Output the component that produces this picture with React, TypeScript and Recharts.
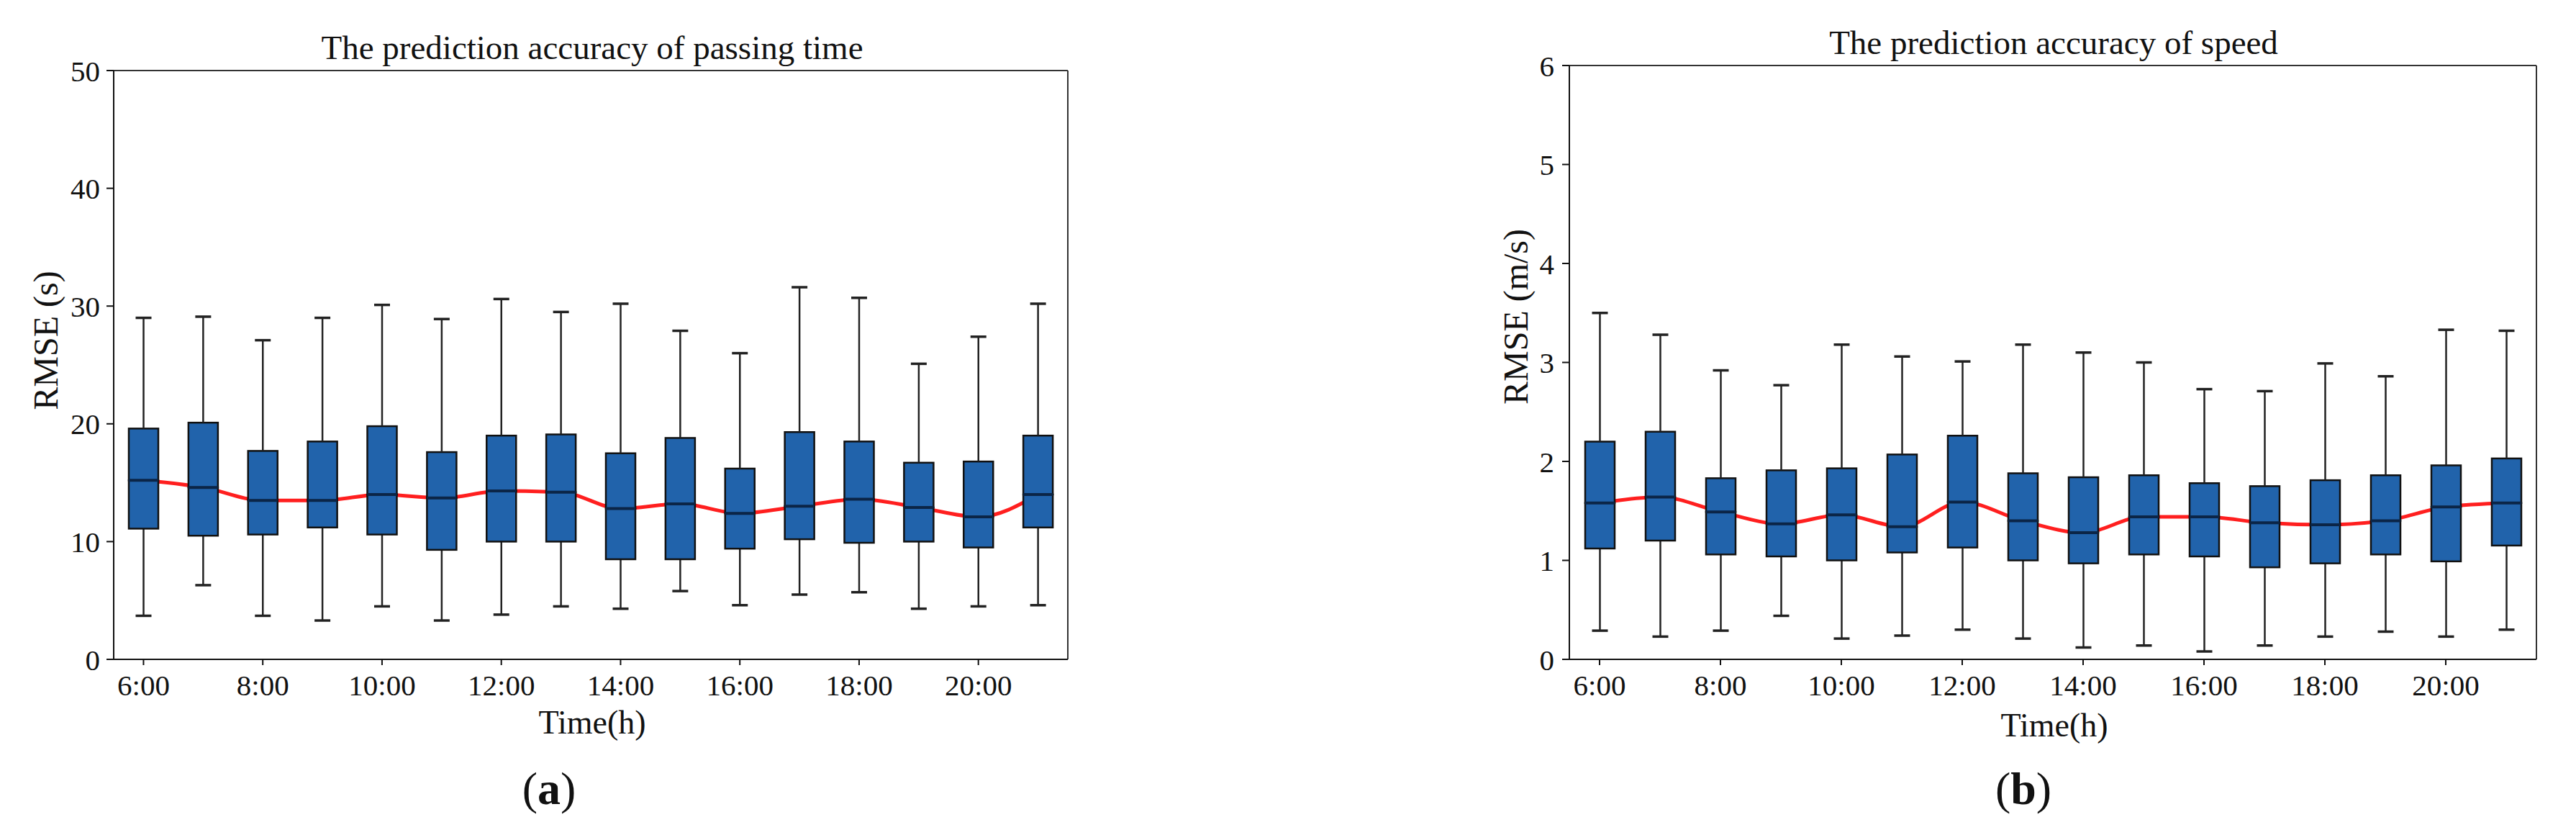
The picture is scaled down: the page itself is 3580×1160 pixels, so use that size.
import React from "react";
import { ComposedChart, Bar, Line, XAxis, YAxis } from "recharts";

const hours = [
  "6:00", "7:00", "8:00", "9:00", "10:00", "11:00", "12:00", "13:00",
  "14:00", "15:00", "16:00", "17:00", "18:00", "19:00", "20:00", "21:00",
];

// (a) passing time RMSE, seconds
const timeMin = [3.7, 6.3, 3.7, 3.3, 4.5, 3.3, 3.8, 4.5, 4.3, 5.8, 4.6, 5.5, 5.7, 4.3, 4.5, 4.6];
const timeQ1 = [11.1, 10.5, 10.6, 11.2, 10.6, 9.3, 10.0, 10.0, 8.5, 8.5, 9.4, 10.2, 9.9, 10.0, 9.5, 11.2];
const timeMedian = [15.2, 14.6, 13.5, 13.5, 14.0, 13.7, 14.3, 14.2, 12.8, 13.2, 12.4, 13.0, 13.6, 12.9, 12.1, 14.0];
const timeQ3 = [19.6, 20.1, 17.7, 18.5, 19.8, 17.6, 19.0, 19.1, 17.5, 18.8, 16.2, 19.3, 18.5, 16.7, 16.8, 19.0];
const timeMax = [29.0, 29.1, 27.1, 29.0, 30.1, 28.9, 30.6, 29.5, 30.2, 27.9, 26.0, 31.6, 30.7, 25.1, 27.4, 30.2];
const timeTicks = [0, 10, 20, 30, 40, 50];

// (b) speed RMSE, m/s
const speedMin = [0.29, 0.23, 0.29, 0.44, 0.21, 0.24, 0.3, 0.21, 0.12, 0.14, 0.08, 0.14, 0.23, 0.28, 0.23, 0.3];
const speedQ1 = [1.12, 1.2, 1.06, 1.04, 1.0, 1.08, 1.13, 1.0, 0.97, 1.06, 1.04, 0.93, 0.97, 1.06, 0.99, 1.15];
const speedMedian = [1.58, 1.64, 1.49, 1.37, 1.46, 1.34, 1.59, 1.4, 1.28, 1.44, 1.44, 1.38, 1.36, 1.4, 1.54, 1.58];
const speedQ3 = [2.2, 2.3, 1.83, 1.91, 1.93, 2.07, 2.26, 1.88, 1.84, 1.86, 1.78, 1.75, 1.81, 1.86, 1.96, 2.03];
const speedMax = [3.5, 3.28, 2.92, 2.77, 3.18, 3.06, 3.01, 3.18, 3.1, 3.0, 2.73, 2.71, 2.99, 2.86, 3.33, 3.32];
const speedTicks = [0, 1, 2, 3, 4, 5, 6];

const BOX_FILL = "#2163ab";
const FONT = "'Liberation Serif', 'Times New Roman', serif";

const buildRows = (min: number[], q1: number[], med: number[], q3: number[], max: number[]) =>
  hours.map((hour, i) => ({
    hour,
    median: med[i],
    base: min[i],
    lowWhisker: q1[i] - min[i],
    boxLow: med[i] - q1[i],
    boxHigh: q3[i] - med[i],
    upWhisker: max[i] - q3[i],
  }));

const LowerWhisker = (props: any) => {
  const { x, y, width, height } = props;
  const cx = x + width / 2;
  return (
    <g>
      <line x1={cx} x2={cx} y1={y} y2={y + height} stroke="#222" strokeWidth={2.5} />
      <line x1={cx - 11} x2={cx + 11} y1={y + height} y2={y + height} stroke="#222" strokeWidth={3.5} />
    </g>
  );
};

const UpperWhisker = (props: any) => {
  const { x, y, width, height } = props;
  const cx = x + width / 2;
  return (
    <g>
      <line x1={cx} x2={cx} y1={y} y2={y + height} stroke="#222" strokeWidth={2.5} />
      <line x1={cx - 11} x2={cx + 11} y1={y} y2={y} stroke="#222" strokeWidth={3.5} />
    </g>
  );
};

const BoxLow = (props: any) => {
  const { x, y, width, height } = props;
  return <rect x={x} y={y} width={width} height={height} fill={BOX_FILL} stroke="#111" strokeWidth={2.5} />;
};

const BoxHigh = (props: any) => {
  const { x, y, width, height } = props;
  return (
    <g>
      <rect x={x} y={y} width={width} height={height} fill={BOX_FILL} stroke="#111" strokeWidth={2.5} />
      <line x1={x} x2={x + width} y1={y + height} y2={y + height} stroke="#0b2547" strokeWidth={4} />
    </g>
  );
};

const tickStyle = { fontFamily: FONT, fontSize: 41, fill: "#111" };

interface PanelProps {
  rows: ReturnType<typeof buildRows>;
  left: number;
  width: number;
  plot: { top: number; right: number; left: number; bottom: number };
  yMax: number;
  yTicks: number[];
  yTickMargin: number;
}

// plot = distances from chart edges to the plot area
const BoxPanel: React.FC<PanelProps> = ({ rows, left, width, plot, yMax, yTicks, yTickMargin }) => (
  <>
    {/* under layer: median trend line + top/right frame */}
    <div style={{ position: "absolute", left, top: 0 }}>
      <ComposedChart
        width={width}
        height={1160}
        data={rows}
        margin={{ top: plot.top - 1, right: plot.right - 1, left: plot.left, bottom: plot.bottom }}
      >
        <XAxis
          dataKey="hour"
          orientation="top"
          scale="band"
          height={1}
          tick={false}
          tickLine={false}
          axisLine={{ stroke: "#333", strokeWidth: 2 }}
        />
        <YAxis orientation="right" domain={[0, yMax]} width={1} tick={false} tickLine={false} axisLine={{ stroke: "#333", strokeWidth: 2 }} />
        <Line
          dataKey="median"
          type="monotone"
          stroke="#ff1f1f"
          strokeWidth={5}
          dot={false}
          activeDot={false}
          isAnimationActive={false}
        />
      </ComposedChart>
    </div>
    {/* upper layer: boxes and main axes */}
    <div style={{ position: "absolute", left, top: 0 }}>
      <ComposedChart
        width={width}
        height={1160}
        data={rows}
        margin={{ top: plot.top, right: plot.right, left: plot.left - 60, bottom: plot.bottom - 60 }}
      >
        <XAxis
          dataKey="hour"
          interval={1}
          height={60}
          tickSize={8}
          tickMargin={13}
          tick={tickStyle}
          axisLine={{ stroke: "#111", strokeWidth: 2 }}
          tickLine={{ stroke: "#111", strokeWidth: 2 }}
        />
        <YAxis
          domain={[0, yMax]}
          ticks={yTicks}
          width={60}
          tickSize={10}
          tickMargin={yTickMargin}
          tick={tickStyle}
          axisLine={{ stroke: "#111", strokeWidth: 2 }}
          tickLine={{ stroke: "#111", strokeWidth: 2 }}
        />
        <Bar dataKey="base" stackId="box" barSize={41} fill="transparent" isAnimationActive={false} />
        <Bar dataKey="lowWhisker" stackId="box" barSize={41} shape={LowerWhisker} isAnimationActive={false} />
        <Bar dataKey="boxLow" stackId="box" barSize={41} shape={BoxLow} isAnimationActive={false} />
        <Bar dataKey="boxHigh" stackId="box" barSize={41} shape={BoxHigh} isAnimationActive={false} />
        <Bar dataKey="upWhisker" stackId="box" barSize={41} shape={UpperWhisker} isAnimationActive={false} />
      </ComposedChart>
    </div>
  </>
);

const timeRows = buildRows(timeMin, timeQ1, timeMedian, timeQ3, timeMax);
const speedRows = buildRows(speedMin, speedQ1, speedMedian, speedQ3, speedMax);

export default function App() {
  return (
    <div style={{ position: "absolute", left: 0, top: 0, width: 3580, height: 1160, background: "#fff", overflow: "hidden" }}>
      <BoxPanel
        rows={timeRows}
        left={0}
        width={1560}
        plot={{ top: 98, right: 76, left: 158, bottom: 244 }}
        yMax={50}
        yTicks={timeTicks}
        yTickMargin={9}
      />
      <BoxPanel
        rows={speedRows}
        left={1800}
        width={1780}
        plot={{ top: 91, right: 55, left: 381, bottom: 244 }}
        yMax={6}
        yTicks={speedTicks}
        yTickMargin={11}
      />
      <svg width={3580} height={1160} style={{ position: "absolute", left: 0, top: 0, pointerEvents: "none" }} fontFamily={FONT} fill="#111">
        <text x={823} y={82} fontSize={47} textAnchor="middle">The prediction accuracy of passing time</text>
        <text x={2854} y={75} fontSize={47} textAnchor="middle">The prediction accuracy of speed</text>
        <text x={80} y={473} fontSize={48} textAnchor="middle" transform="rotate(-90 80 473)">RMSE (s)</text>
        <text x={2123} y={440} fontSize={48} textAnchor="middle" transform="rotate(-90 2123 440)">RMSE (m/s)</text>
        <text x={823} y={1019} fontSize={46} textAnchor="middle">Time(h)</text>
        <text x={2855} y={1023} fontSize={46} textAnchor="middle">Time(h)</text>
        <text x={763} y={1117} fontSize={64} textAnchor="middle">
          (<tspan fontWeight="bold">a</tspan>)
        </text>
        <text x={2812} y={1117} fontSize={64} textAnchor="middle">
          (<tspan fontWeight="bold">b</tspan>)
        </text>
      </svg>
    </div>
  );
}
